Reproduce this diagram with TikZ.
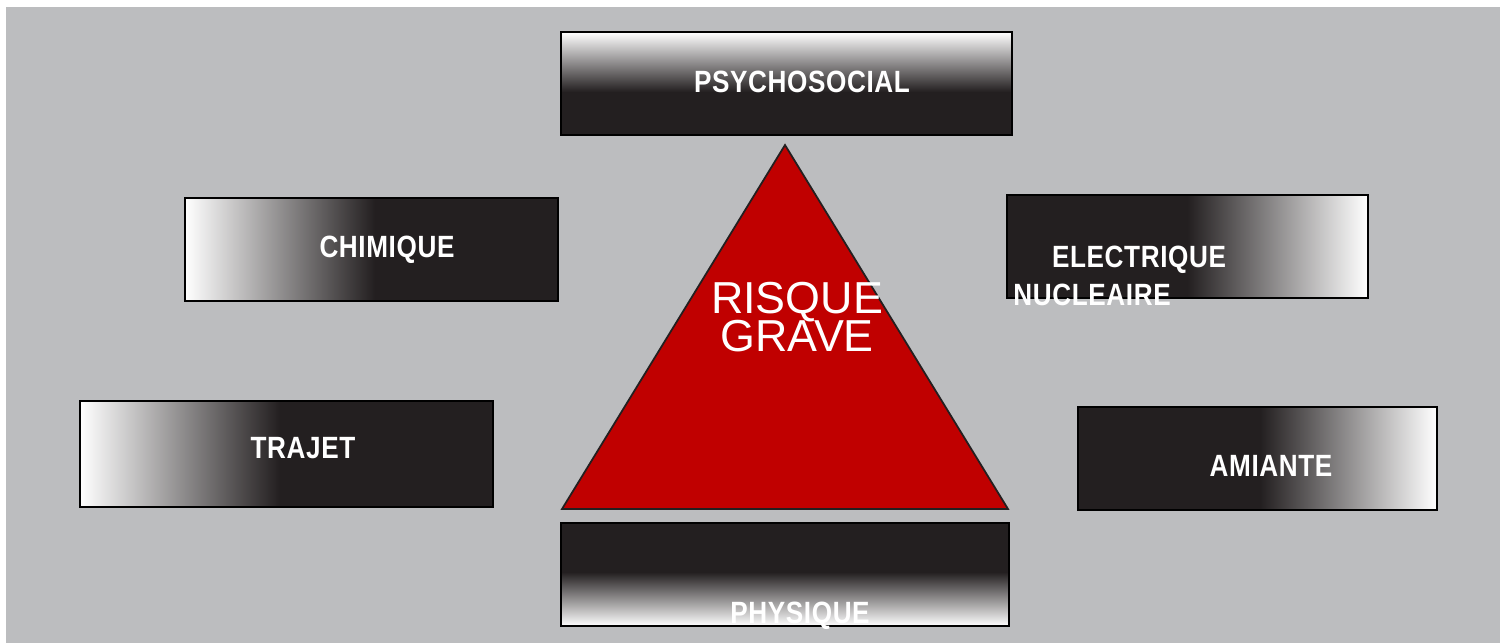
\documentclass[tikz,border=0pt]{standalone}
\usepackage{fontspec}
\setmainfont{Liberation Sans}
\newfontfamily\labelfont{Liberation Sans}[FakeStretch=0.85,LetterSpace=2]
\definecolor{bggray}{RGB}{188,189,191}
\definecolor{boxdark}{RGB}{35,31,32}
\definecolor{riskred}{RGB}{192,0,0}
\begin{document}
\begin{tikzpicture}[x=0.02cm,y=-0.02cm,
    boxline/.style={draw=black,line width=1.2pt},
    boxtext/.style={text=white,anchor=base,inner sep=0pt,
      font=\labelfont\bfseries\fontsize{17.5}{20}\selectfont},
    risktext/.style={text=white,anchor=base,inner sep=0pt,
      font=\fontsize{25.5}{20}\selectfont}]
  \useasboundingbox (0,0) rectangle (1507,643);
  \fill[bggray] (6,7) rectangle (1500,643);
  % psychosocial
  \fill[boxdark] (561,32) rectangle (1012,135);
  \shade[top color=white,bottom color=boxdark] (561,32) rectangle (1012,92);
  \draw[boxline] (561,32) rectangle (1012,135);
  \node[boxtext] (psycho) at (802,92) {PSYCHOSOCIAL};
  % chimique
  \fill[boxdark] (185,198) rectangle (558,301);
  \shade[left color=white,right color=boxdark] (185,198) rectangle (375,301);
  \draw[boxline] (185,198) rectangle (558,301);
  \node[boxtext] (chimique) at (387,257) {CHIMIQUE};
  % trajet
  \fill[boxdark] (80,401) rectangle (493,507);
  \shade[left color=white,right color=boxdark] (80,401) rectangle (280,507);
  \draw[boxline] (80,401) rectangle (493,507);
  \node[boxtext] (trajet) at (303,458) {TRAJET};
  % electrique
  \fill[boxdark] (1007,195) rectangle (1368,298);
  \shade[left color=boxdark,right color=white] (1187,195) rectangle (1368,298);
  \draw[boxline] (1007,195) rectangle (1368,298);
  \node[boxtext] (electrique) at (1139,267) {ELECTRIQUE};
  \node[boxtext] (nucleaire) at (1092,305) {NUCLEAIRE};
  % amiante
  \fill[boxdark] (1078,407) rectangle (1437,510);
  \shade[left color=boxdark,right color=white] (1260,407) rectangle (1437,510);
  \draw[boxline] (1078,407) rectangle (1437,510);
  \node[boxtext] (amiante) at (1271,476) {AMIANTE};
  % physique
  \fill[boxdark] (561,523) rectangle (1009,626);
  \shade[top color=boxdark,bottom color=white] (561,572) rectangle (1009,626);
  \draw[boxline] (561,523) rectangle (1009,626);
  \node[boxtext] (physique) at (800,623) {PHYSIQUE};
  % triangle
  \filldraw[fill=riskred,draw=boxdark,line width=1pt]
    (785,145) -- (1008,509) -- (562,509) -- cycle;
  \node[risktext] (risque) at (797,313) {RISQUE};
  \node[risktext] (grave) at (797,351) {GRAVE};
\end{tikzpicture}
\end{document}
